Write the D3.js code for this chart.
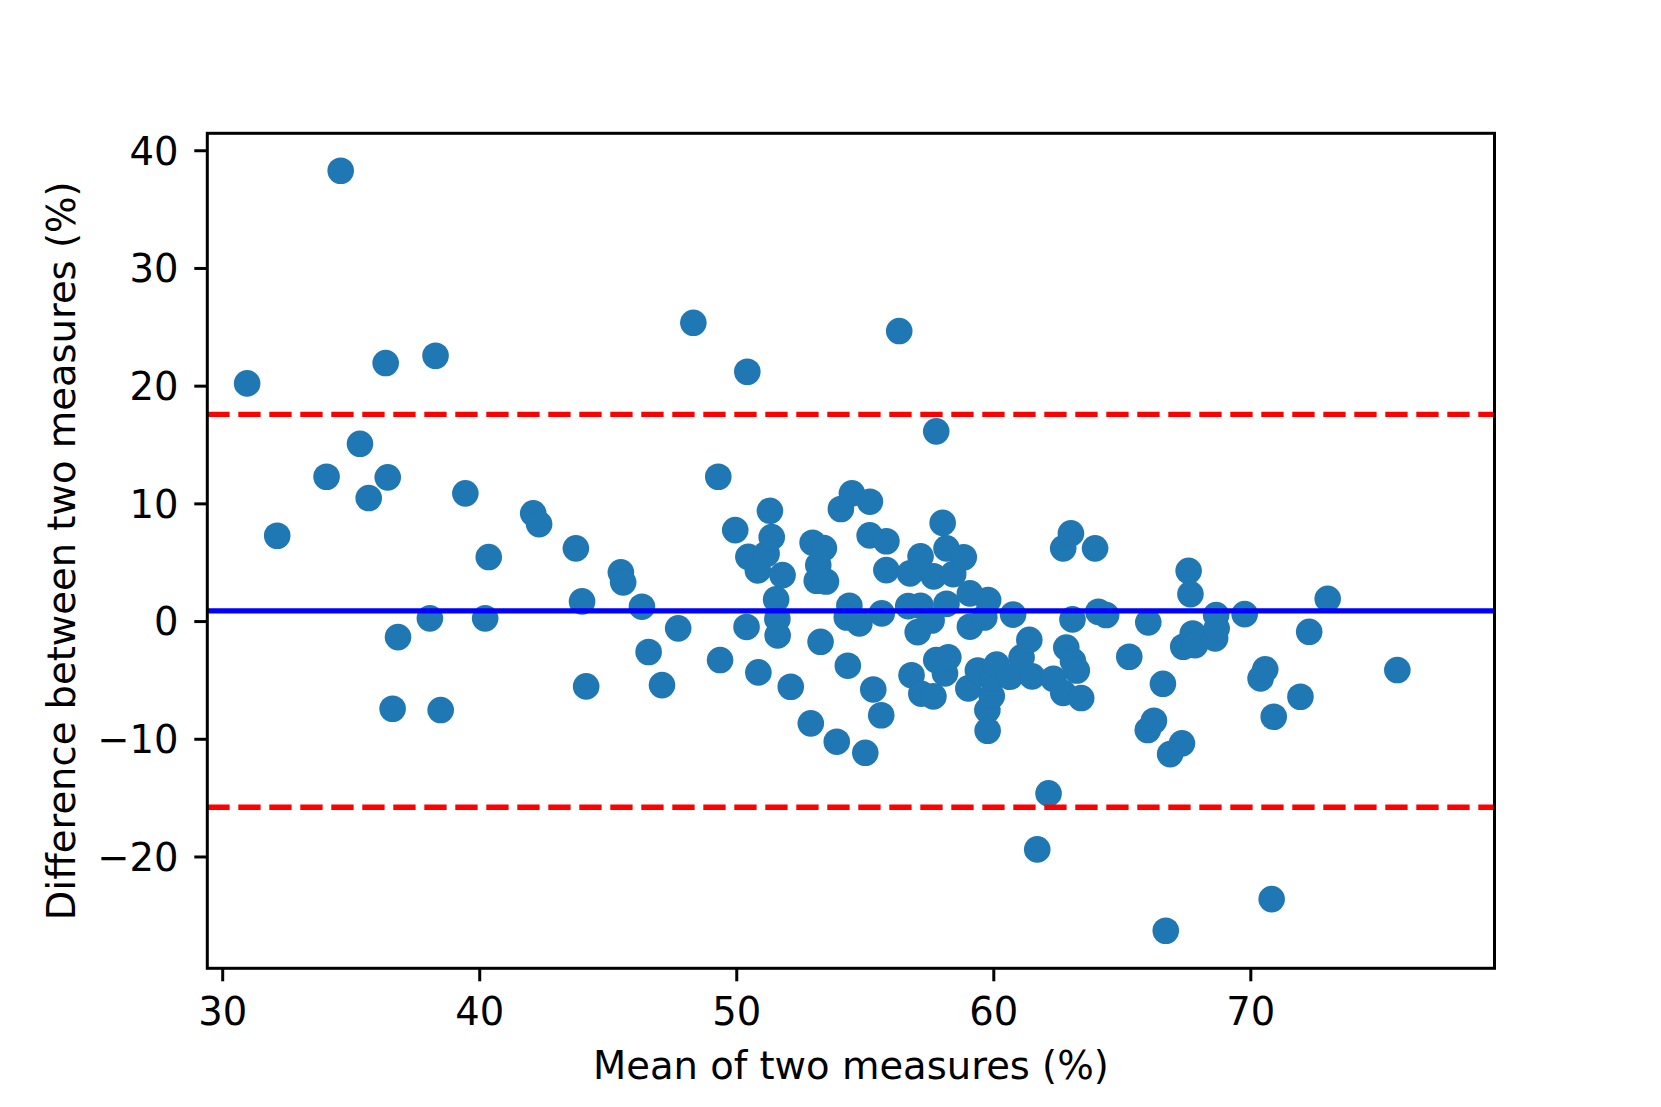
<!DOCTYPE html>
<html>
<head>
<meta charset="utf-8">
<script src="https://cdn.jsdelivr.net/npm/d3@7"></script>
<style>
  body { margin: 0; background: #fff; }
  text { font-family: "DejaVu Sans", sans-serif; fill: #000; }
</style>
</head>
<body>
<div id="chart"></div>
<script>
// Mean of the two measures (%) for each subject.
var meanValues = [
    30.97, 32.14, 34.06, 34.61, 35.36, 35.70, 36.36, 36.44, 36.63, 36.84,
    38.08, 38.30, 38.50, 39.46, 40.23, 40.37, 42.10, 42.33, 43.76, 44.00,
    44.16, 45.51, 45.60, 46.33, 46.59, 47.11, 47.74, 48.33, 49.30, 49.37,
    49.96, 50.40, 50.43, 50.47, 50.84, 50.86, 51.18, 51.31, 51.38, 51.55,
    51.60, 51.61, 51.80, 52.12, 52.90, 52.97, 53.41, 53.19, 53.13, 53.49,
    53.28, 53.91, 54.07, 54.34, 54.40, 54.30, 54.50, 54.79, 55.02, 55.20,
    55.19, 55.33, 55.64, 55.66, 55.84, 55.84, 56.34, 56.69, 56.76, 56.82,
    57.06, 57.17, 57.17, 57.20, 57.60, 57.67, 57.68, 57.78, 57.78, 58.03,
    58.12, 58.18, 58.18, 58.25, 58.44, 58.85, 59.03, 59.09, 59.09, 59.40,
    59.65, 59.77, 59.78, 59.80, 59.94, 59.95, 60.13, 60.65, 60.77, 61.10,
    61.40, 61.51, 61.71, 62.15, 62.34, 62.72, 62.72, 62.84, 63.02, 63.08,
    63.10, 63.25, 63.42, 63.96, 64.09, 64.39, 65.29, 66.01, 66.03, 66.25,
    66.60, 66.71, 66.88, 67.34, 67.39, 67.60, 67.67, 67.76, 67.85, 68.63,
    68.67, 68.69, 69.78, 70.40, 70.58, 70.83, 70.91, 71.95, 72.29, 73.01,
    75.72
];

// Difference between the two measures (%) for the same subjects.
var diffValues = [
    20.19, 7.25, 12.26, 38.26, 15.06, 10.45, 21.92, 12.21, -7.45, -1.36,
    0.23, 22.54, -7.56, 10.85, 0.23, 5.44, 9.15, 8.24, 6.18, 1.67,
    -5.55, 4.14, 3.29, 1.22, -2.63, -5.44, -0.62, 25.34, 12.26, -3.31,
    7.73, -0.50, 21.18, 5.46, 4.30, -4.36, 5.72, 9.37, 7.13, 1.84,
    0.18, -1.22, 3.90, -5.58, -8.69, 6.66, 6.20, 4.76, 3.42, 3.36,
    -1.76, -10.25, 9.52, -3.79, 1.30, 0.30, 10.85, -0.20, -11.19, 10.14,
    7.28, -5.81, -8.00, 0.65, 6.78, 4.33, 24.64, 1.27, 4.05, -4.60,
    -0.94, 5.50, 1.30, -6.17, 0.05, -6.40, 3.80, -3.31, 16.12, 8.34,
    -4.45, 6.18, 1.47, -3.08, 3.99, 5.42, -5.72, 2.35, -0.48, -4.20,
    0.30, -7.56, -9.32, 1.78, -6.37, -4.90, -3.70, -4.73, 0.55, -3.08,
    -1.60, -4.70, -19.40, -14.64, -4.90, 6.18, -6.10, -2.25, 7.45, 0.14,
    -3.40, -4.20, -6.54, 6.18, 0.79, 0.51, -3.03, -9.26, -0.11, -8.47,
    -5.33, -26.31, -11.30, -10.39, -2.18, 4.27, 2.29, -1.05, -2.04, -1.47,
    0.51, -0.62, 0.59, -4.87, -4.10, -23.62, -8.13, -6.43, -0.91, 1.89,
    -4.16
];

// Mean difference and limits of agreement.
var meanDiff = 0.87;
var upperLimit = 17.56;
var lowerLimit = -15.82;

var xTicks = [30, 40, 50, 60, 70];
var yTicks = [-20, -10, 0, 10, 20, 30, 40];

var xLabel = 'Mean of two measures (%)';
var yLabel = 'Difference between two measures (%)';

var width = 1661, height = 1107;
var plot = { left: 207.3, right: 1494.5, top: 133.3, bottom: 968.3 };
var fontSize = 38.5;

var svg = d3.select('#chart').append('svg')
    .attr('width', width)
    .attr('height', height);

svg.append('rect')
    .attr('width', width)
    .attr('height', height)
    .attr('fill', '#fff');

var x = d3.scaleLinear()
    .domain([29.42, 79.5])
    .range([plot.left, plot.right]);

var y = d3.scaleLinear()
    .domain([-29.5, 41.44])
    .range([plot.bottom, plot.top]);

var points = meanValues.map((m, i) => ({ mean: m, diff: diffValues[i] }));

// Clip marks to the axes area.
svg.append('clipPath')
    .attr('id', 'plot-clip')
    .append('rect')
    .attr('x', plot.left)
    .attr('y', plot.top)
    .attr('width', plot.right - plot.left)
    .attr('height', plot.bottom - plot.top);

var g = svg.append('g').attr('clip-path', 'url(#plot-clip)');

// Scatter points.
g.selectAll('circle')
    .data(points)
    .enter()
    .append('circle')
    .attr('cx', d => x(d.mean))
    .attr('cy', d => y(d.diff))
    .attr('r', 13.3)
    .attr('fill', '#1f77b4');

// Mean line and limits of agreement (drawn over the points).
g.append('line')
    .attr('x1', plot.left).attr('x2', plot.right)
    .attr('y1', y(meanDiff)).attr('y2', y(meanDiff))
    .attr('stroke', '#0000ff')
    .attr('stroke-width', 5.4);

[upperLimit, lowerLimit].forEach(v => {
    g.append('line')
        .attr('x1', plot.left).attr('x2', plot.right)
        .attr('y1', y(v)).attr('y2', y(v))
        .attr('stroke', '#ff0000')
        .attr('stroke-width', 5.4)
        .attr('stroke-dasharray', '22.3,8.7');
});

// Axes.
var xAxis = d3.axisBottom(x)
    .tickValues(xTicks)
    .tickFormat(d3.format('d'))
    .tickSize(13)
    .tickPadding(16.4);

var yAxis = d3.axisLeft(y)
    .tickValues(yTicks)
    .tickFormat(d3.format('d'))
    .tickSize(13)
    .tickPadding(15.8);

var xg = svg.append('g')
    .attr('transform', 'translate(0,' + plot.bottom + ')')
    .call(xAxis);

var yg = svg.append('g')
    .attr('transform', 'translate(' + plot.left + ',0)')
    .call(yAxis);

[xg, yg].forEach(a => {
    a.select('.domain').remove();
    a.selectAll('.tick line').attr('stroke', '#000').attr('stroke-width', 3);
    a.selectAll('.tick text')
        .attr('fill', '#000')
        .style('font-size', fontSize + 'px')
        .style('font-family', '"DejaVu Sans", sans-serif');
});
yg.selectAll('.tick text').attr('dy', '0.36em');

// Frame (spines).
svg.append('rect')
    .attr('x', plot.left)
    .attr('y', plot.top)
    .attr('width', plot.right - plot.left)
    .attr('height', plot.bottom - plot.top)
    .attr('fill', 'none')
    .attr('stroke', '#000')
    .attr('stroke-width', 3);

// Axis labels.
svg.append('text')
    .attr('x', (plot.left + plot.right) / 2)
    .attr('y', 1079)
    .attr('text-anchor', 'middle')
    .style('font-size', fontSize + 'px')
    .text(xLabel);

svg.append('text')
    .attr('transform', 'translate(75,' + ((plot.top + plot.bottom) / 2) + ') rotate(-90)')
    .attr('text-anchor', 'middle')
    .style('font-size', fontSize + 'px')
    .text(yLabel);
</script>
</body>
</html>
